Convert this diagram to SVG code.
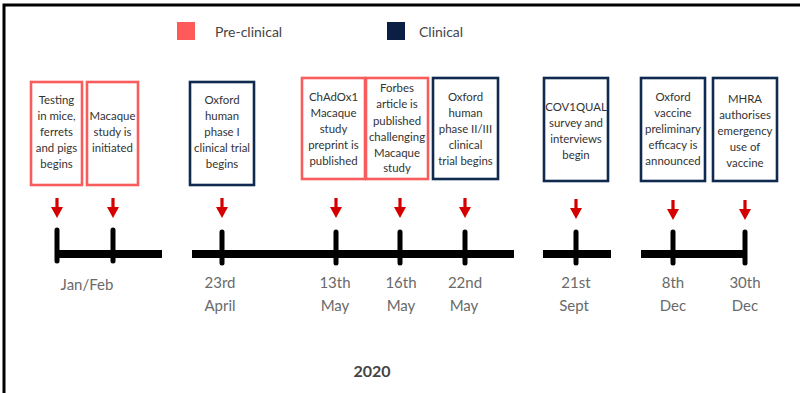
<svg xmlns="http://www.w3.org/2000/svg" width="800" height="393" viewBox="0 0 800 393">
<defs>
<style>
.pre{fill:#fff;stroke:#f85c5c;stroke-width:2.6}
.cli{fill:#fff;stroke:#0f2a4e;stroke-width:2.6}
.bt{font-family:Lato,"Open Sans",sans-serif;font-size:11.4px;fill:#333;text-anchor:middle}
.dt{font-family:Lato,"Open Sans",sans-serif;font-size:15px;fill:#6a6a6a;text-anchor:middle}
.lg{font-family:Lato,"Open Sans",sans-serif;font-size:14px;fill:#444}
.tl{stroke:#000;stroke-width:8;fill:none}
.tk{stroke:#000;stroke-width:5;stroke-linecap:round;fill:none}
.ar{fill:#d40000}
</style>
<g id="arrowShape">
<rect class="ar" x="-1.6" y="0" width="3.2" height="11"/>
<polygon class="ar" points="-6,9 6,9 0,20"/>
</g>
</defs>
<rect x="0" y="0" width="800" height="393" fill="#fff"/>
<path d="M4 393 V5 H800" fill="none" stroke="#000" stroke-width="3"/>

<g id="legend">
<rect x="177" y="22" width="18" height="18" fill="#ff5a5a"/>
<text class="lg" x="215" y="37">Pre-clinical</text>
<rect x="387" y="22" width="18" height="18" fill="#0b1f44"/>
<text class="lg" x="419" y="37">Clinical</text>
</g>

<g id="node-testing">
<rect class="pre" x="31" y="82" width="51" height="103"/>
<text class="bt"><tspan x="56.5" y="104">Testing</tspan><tspan x="56.5" y="120">in mice,</tspan><tspan x="56.5" y="136">ferrets</tspan><tspan x="56.5" y="152">and pigs</tspan><tspan x="56.5" y="168">begins</tspan></text>
</g>
<g id="node-macaque">
<rect class="pre" x="87" y="82" width="51" height="103"/>
<text class="bt"><tspan x="112.5" y="120">Macaque</tspan><tspan x="112.5" y="136">study is</tspan><tspan x="112.5" y="152">initiated</tspan></text>
</g>
<g id="node-phase1">
<rect class="cli" x="190" y="82" width="64" height="103"/>
<text class="bt"><tspan x="222" y="104">Oxford</tspan><tspan x="222" y="120">human</tspan><tspan x="222" y="136">phase I</tspan><tspan x="222" y="152">clinical trial</tspan><tspan x="222" y="168">begins</tspan></text>
</g>
<g id="node-chadox">
<rect class="pre" x="302" y="78" width="63" height="101"/>
<text class="bt"><tspan x="333.5" y="101">ChAdOx1</tspan><tspan x="333.5" y="117">Macaque</tspan><tspan x="333.5" y="133">study</tspan><tspan x="333.5" y="149">preprint is</tspan><tspan x="333.5" y="165">published</tspan></text>
</g>
<g id="node-forbes">
<rect class="pre" x="366" y="78" width="62" height="101"/>
<text class="bt"><tspan x="397" y="92">Forbes</tspan><tspan x="397" y="108">article is</tspan><tspan x="397" y="125">published</tspan><tspan x="397" y="141">challenging</tspan><tspan x="397" y="157">Macaque</tspan><tspan x="397" y="172">study</tspan></text>
</g>
<g id="node-phase23">
<rect class="cli" x="433" y="78" width="65" height="101"/>
<text class="bt"><tspan x="465.5" y="101">Oxford</tspan><tspan x="465.5" y="117">human</tspan><tspan x="465.5" y="133">phase II/III</tspan><tspan x="465.5" y="149">clinical</tspan><tspan x="465.5" y="165">trial begins</tspan></text>
</g>
<g id="node-cov1qual">
<rect class="cli" x="544" y="78" width="64" height="103"/>
<text class="bt"><tspan x="576" y="111">COV1QUAL</tspan><tspan x="576" y="127">survey and</tspan><tspan x="576" y="143">interviews</tspan><tspan x="576" y="159">begin</tspan></text>
</g>
<g id="node-efficacy">
<rect class="cli" x="641" y="78" width="64" height="103"/>
<text class="bt"><tspan x="673" y="101">Oxford</tspan><tspan x="673" y="117">vaccine</tspan><tspan x="673" y="133">preliminary</tspan><tspan x="673" y="149">efficacy is</tspan><tspan x="673" y="165">announced</tspan></text>
</g>
<g id="node-mhra">
<rect class="cli" x="713" y="78" width="64" height="103"/>
<text class="bt"><tspan x="745" y="103">MHRA</tspan><tspan x="745" y="119">authorises</tspan><tspan x="745" y="135">emergency</tspan><tspan x="745" y="151">use of</tspan><tspan x="745" y="167">vaccine</tspan></text>
</g>

<g id="connectors">
<use href="#arrowShape" x="57" y="198"/>
<use href="#arrowShape" x="113" y="198"/>
<use href="#arrowShape" x="222" y="198"/>
<use href="#arrowShape" x="336" y="198"/>
<use href="#arrowShape" x="400" y="198"/>
<use href="#arrowShape" x="465" y="198"/>
<use href="#arrowShape" x="576" y="199"/>
<use href="#arrowShape" x="673" y="200"/>
<use href="#arrowShape" x="745" y="200"/>
</g>

<g id="timeline">
<line class="tl" x1="55" y1="254" x2="162" y2="254"/>
<line class="tl" x1="192" y1="254" x2="514" y2="254"/>
<line class="tl" x1="543" y1="254" x2="611" y2="254"/>
<line class="tl" x1="641" y1="254" x2="747" y2="254"/>
<line class="tk" x1="57" y1="230" x2="57" y2="261"/>
<line class="tk" x1="113" y1="230" x2="113" y2="261"/>
<line class="tk" x1="222" y1="232" x2="222" y2="263"/>
<line class="tk" x1="336" y1="232" x2="336" y2="263"/>
<line class="tk" x1="400" y1="232" x2="400" y2="263"/>
<line class="tk" x1="465" y1="232" x2="465" y2="263"/>
<line class="tk" x1="576" y1="232" x2="576" y2="263"/>
<line class="tk" x1="673" y1="232" x2="673" y2="263"/>
<line class="tk" x1="745" y1="232" x2="745" y2="263"/>
</g>

<g id="labels">
<text class="dt" x="87" y="290">Jan/Feb</text>
<text class="dt"><tspan x="220" y="288">23rd</tspan><tspan x="220" y="311">April</tspan></text>
<text class="dt"><tspan x="335" y="288">13th</tspan><tspan x="335" y="311">May</tspan></text>
<text class="dt"><tspan x="401" y="288">16th</tspan><tspan x="401" y="311">May</tspan></text>
<text class="dt"><tspan x="465" y="288">22nd</tspan><tspan x="464" y="311">May</tspan></text>
<text class="dt"><tspan x="576" y="288">21st</tspan><tspan x="574" y="311">Sept</tspan></text>
<text class="dt"><tspan x="673" y="288">8th</tspan><tspan x="673" y="311">Dec</tspan></text>
<text class="dt"><tspan x="745" y="288">30th</tspan><tspan x="745" y="311">Dec</tspan></text>
<text x="372" y="377" font-family="Lato,'Open Sans',sans-serif" font-size="16" font-weight="bold" fill="#444" text-anchor="middle">2020</text>
</g>
</svg>
